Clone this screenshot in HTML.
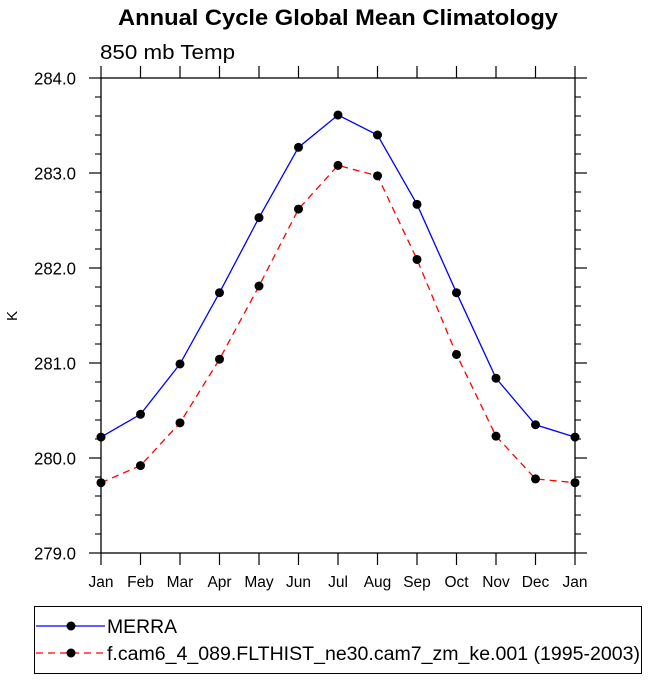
<!DOCTYPE html>
<html><head><meta charset="utf-8"><style>
body{margin:0;background:#fff;}
svg text{font-family:"Liberation Sans",Arial,sans-serif;}
</style></head><body>
<svg id="chart" width="649" height="677" viewBox="0 0 649 677" xmlns="http://www.w3.org/2000/svg">
<text x="118" y="25" font-size="22" font-weight="bold" textLength="440" lengthAdjust="spacingAndGlyphs">Annual Cycle Global Mean Climatology</text>
<text x="100" y="59" font-size="20" textLength="135" lengthAdjust="spacingAndGlyphs">850 mb Temp</text>
<text transform="translate(17,316) rotate(-90)" text-anchor="middle" font-size="15">K</text>
<g id="axes"></g>
<g id="series"></g>
<g>
<rect x="34.5" y="606.5" width="607" height="67" fill="none" stroke="#000" stroke-width="1"/>
<line x1="36" y1="626" x2="105" y2="626" stroke="#0000ff" stroke-width="1.3"/>
<circle cx="71" cy="626" r="4.5" fill="#000"/>
<text x="107" y="633" font-size="19" textLength="70" lengthAdjust="spacingAndGlyphs">MERRA</text>
<line x1="36" y1="653" x2="105" y2="653" stroke="#ff0000" stroke-width="1.3" stroke-dasharray="7,5"/>
<circle cx="71" cy="653" r="4.5" fill="#000"/>
<text x="107" y="660" font-size="19" textLength="533" lengthAdjust="spacingAndGlyphs">f.cam6_4_089.FLTHIST_ne30.cam7_zm_ke.001 (1995-2003)</text>
</g>
</svg>
<script>
const months = ["Jan","Feb","Mar","Apr","May","Jun","Jul","Aug","Sep","Oct","Nov","Dec","Jan"];
const merra = [280.22,280.46,280.99,281.74,282.53,283.27,283.61,283.40,282.67,281.74,280.84,280.35,280.22];
const model = [279.74,279.92,280.37,281.04,281.81,282.62,283.08,282.97,282.09,281.09,280.23,279.78,279.74];
const yTicks = ["279.0","280.0","281.0","282.0","283.0","284.0"];
const NS="http://www.w3.org/2000/svg";
const L=101,R=575,T=78,B=553,ymin=279,ymax=284;
const xs=i=>L+(R-L)*i/(months.length-1);
const ys=v=>B-(v-ymin)/(ymax-ymin)*(B-T);
function mk(tag,attrs,parent){const e=document.createElementNS(NS,tag);for(const k in attrs)e.setAttribute(k,attrs[k]);parent.appendChild(e);return e;}
const ax=document.getElementById('axes');
const frame=mk('rect',{x:L,y:T,width:R-L,height:B-T,fill:'none',stroke:'#000','stroke-width':1.3},ax);


months.forEach((m,i)=>{
  const x=xs(i);
  mk('line',{x1:x,y1:B,x2:x,y2:B+12,stroke:'#000','stroke-width':1.2},ax);
  mk('line',{x1:x,y1:T,x2:x,y2:T-12,stroke:'#000','stroke-width':1.2},ax);
  const t=mk('text',{x:x,y:B+34,'text-anchor':'middle','font-size':15.5},ax);
  t.textContent=m;
  
  
});
yTicks.forEach(s=>{
  const v=parseFloat(s),y=ys(v);
  mk('line',{x1:L,y1:y,x2:L-12,y2:y,stroke:'#000','stroke-width':1.2},ax);
  mk('line',{x1:R,y1:y,x2:R+12,y2:y,stroke:'#000','stroke-width':1.2},ax);
  const t=mk('text',{x:L-25,y:y+6.5,'text-anchor':'end','font-size':17.5,textLength:42,lengthAdjust:'spacingAndGlyphs'},ax);
  t.textContent=s;
  
  
  if(v<ymax){for(let k=1;k<5;k++){const yy=ys(v+k*0.2);
    mk('line',{x1:L,y1:yy,x2:L-6,y2:yy,stroke:'#000','stroke-width':1.1},ax);
    mk('line',{x1:R,y1:yy,x2:R+6,y2:yy,stroke:'#000','stroke-width':1.1},ax);}}
});
const sg=document.getElementById('series');
function drawSeries(vals,color,dash,name){
  const pts=vals.map((v,i)=>xs(i)+','+ys(v)).join(' ');
  const pl=mk('polyline',{points:pts,fill:'none',stroke:color,'stroke-width':1.3},sg);
  if(dash)pl.setAttribute('stroke-dasharray',dash);
  
  
  vals.forEach((v,i)=>{
    const c=mk('circle',{cx:xs(i),cy:ys(v),r:4.5,fill:'#000'},sg);
    
    
  });
}
drawSeries(merra,'#0000ff',null,'merra');
drawSeries(model,'#ff0000','7,5','model');
</script>
</body></html>
